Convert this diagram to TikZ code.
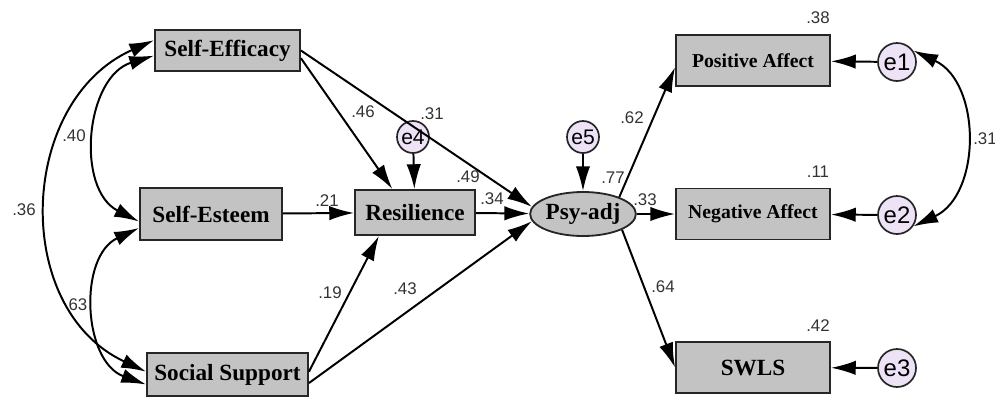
\documentclass[tikz,border=0pt]{standalone}
\usepackage{fontspec}
\setmainfont{Liberation Serif}
\setsansfont{Liberation Sans}
\usetikzlibrary{arrows.meta,shapes.geometric}
\definecolor{boxgray}{RGB}{195,195,195}
\definecolor{errfill}{RGB}{238,226,246}
\tikzset{
	obs/.style={draw=black!85, fill=boxgray, line width=1.3pt, inner sep=0pt,
		font=\bfseries\fontsize{16.5}{18}\selectfont},
	affect/.style={obs, minimum width=3.85cm, minimum height=1.275cm,
		font=\bfseries\fontsize{14}{16}\selectfont},
	err/.style={circle, draw=black!85, fill=errfill, line width=1.2pt, inner sep=0pt,
		minimum size=0.95cm, font=\sffamily\fontsize{17}{18}\selectfont},
	smallerr/.style={err, minimum size=0.8cm, font=\sffamily\fontsize{15}{16}\selectfont},
	coef/.style={inner sep=0pt, font=\sffamily\fontsize{12}{14}\selectfont, text=black!80},
	reg/.style={-{Latex[length=0.62cm,width=0.36cm]}, line width=1.4pt},
	covar/.style={{Latex[length=0.62cm,width=0.36cm]}-{Latex[length=0.62cm,width=0.36cm]}, line width=1.4pt},
}

\begin{document}
\begin{tikzpicture}[x=0.025cm, y=0.025cm]
		%\draw [help lines] (0,0) grid (995,-397);
		\useasboundingbox (0,0) rectangle (995,-397);
		%Predittori
		\node [obs, minimum width=3.625cm, minimum height=1.025cm] (seff) at (227.5,-50.5) {Self-Efficacy};
		\node [obs, minimum width=3.55cm, minimum height=1.3cm] (sest) at (211,-214) {Self-Esteem};
		\node [obs, minimum width=4.025cm, minimum height=1.075cm] (soc) at (227.5,-374.5) {Social Support};
		%Mediatore e latente
		\node [obs, minimum width=3cm, minimum height=1.125cm] (res) at (415,-212.5) {Resilience};
		\node [obs, ellipse, minimum width=2.6cm, minimum height=1.1cm] (psy) at (583,-214) {Psy-adj};
		\node [smallerr] (e4) at (413,-137) {e4};
		\node [smallerr] (e5) at (583,-137) {e5};
		%Indicatori
		\node [affect] (pa) at (753,-60.5) {Positive Affect};
		\node [affect] (na) at (753,-214) {Negative Affect};
		\node [affect, font=\bfseries\fontsize{16.5}{18}\selectfont] (swls) at (753,-367.5) {SWLS};
		\node [err] (e1) at (897,-62) {e1};
		\node [err] (e2) at (897,-215) {e2};
		\node [err] (e3) at (897,-368) {e3};
		%Covarianze
		\draw [covar] (seff.172) to [out=204, in=155, looseness=1.15] (soc.178);
		\draw [covar] (seff.184) to [out=197, in=153, looseness=1.1] (sest.186);
		\draw [covar] (sest.191) to [out=205, in=160, looseness=1.1] (soc.187);
		\draw [covar] (e1.35) to [out=-25, in=25, looseness=1.1] (e2.-35);
		%Percorsi
		\draw [reg] (seff.-6) -- (res.134);
		\draw [reg] (seff.east) -- (psy.172);
		\draw [reg] (sest) -- (res);
		\draw [reg] (soc.2) -- (res.213);
		\draw [reg] (soc.-6) -- (psy.188);
		\draw [reg] (e4) -- (res);
		\draw [reg] (res) -- (psy);
		\draw [reg] (e5) -- (psy);
		\draw [reg] (psy.25) -- (pa.185);
		\draw [reg] (psy) -- (na);
		\draw [reg] (psy.-22) -- (swls.west);
		\draw [reg] (e1) -- (pa);
		\draw [reg] (e2) -- (na);
		\draw [reg] (e3) -- (swls);
		%Coefficienti
		\node [coef] (l40) at (74,-136) {.40};
		\node [coef] (l36) at (24,-210) {.36};
		\node [coef] (l63) at (78,-305) {63};
		\node [coef] (l46) at (363,-112) {.46};
		\node [coef] (r4) at (432,-114) {.31};
		\node [coef] (l49) at (468,-177) {.49};
		\node [coef] (l21) at (327,-201) {.21};
		\node [coef] (l34) at (492,-199) {.34};
		\node [coef] (l19) at (330,-293) {.19};
		\node [coef] (l43) at (405,-289) {.43};
		\node [coef] (r5) at (613,-178) {.77};
		\node [coef] (l62) at (632,-118) {.62};
		\node [coef] (l33) at (645,-200) {.33};
		\node [coef] (l64) at (663,-287) {.64};
		\node [coef] (rpa) at (818,-18) {.38};
		\node [coef] (rna) at (818,-172) {.11};
		\node [coef] (rsw) at (818,-326) {.42};
		\node [coef] (l31) at (985,-139) {.31};
	\end{tikzpicture}
\end{document}
